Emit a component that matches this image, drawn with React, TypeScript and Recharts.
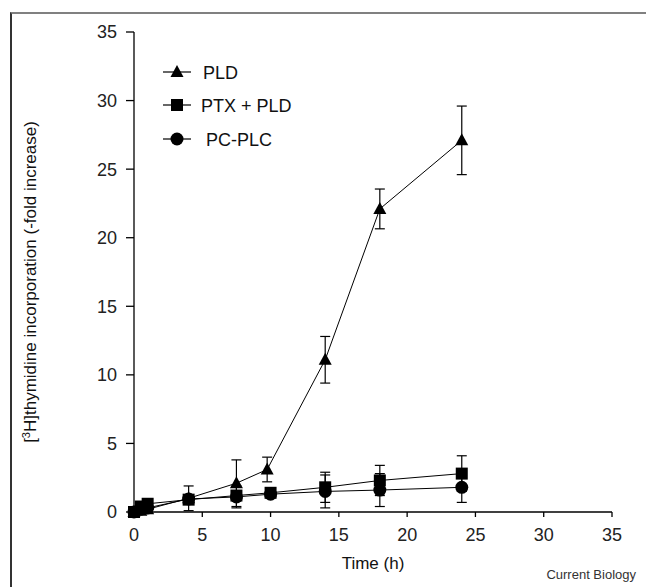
import React from 'react';
import { LineChart, Line, XAxis, YAxis, ErrorBar } from 'recharts';

const xTicks = [0, 5, 10, 15, 20, 25, 30, 35];
const yTicks = [0, 5, 10, 15, 20, 25, 30, 35];

const pldTimes = [0, 0.5, 1, 4, 7.5, 9.75, 14, 18, 24];
const pldValues = [0, 0.1, 0.2, 1.0, 2.1, 3.1, 11.1, 22.1, 27.1];
const pldErrors = [0, 0, 0, 0.9, 1.7, 0.9, 1.7, 1.45, 2.5];

const ptxTimes = [0, 0.5, 1, 4, 7.5, 10, 14, 18, 24];
const ptxValues = [0, 0.4, 0.6, 0.9, 1.2, 1.4, 1.8, 2.3, 2.8];
const ptxErrors = [0, 0, 0, 0, 0.3, 0.2, 1.1, 1.1, 1.3];

const pcTimes = [0, 0.5, 1, 4, 7.5, 10, 14, 18, 24];
const pcValues = [0, 0.2, 0.3, 0.95, 1.1, 1.3, 1.5, 1.6, 1.8];
const pcErrors = [0, 0, 0, 0, 0.8, 0.2, 1.2, 1.2, 1.1];

const seriesNames = ['PLD', 'PTX + PLD', 'PC-PLC'];
const seriesShapes = ['triangle', 'square', 'circle'];

const build = (t: number[], v: number[], e: number[]) =>
  t.map((x, i) => ({ t: x, v: v[i], e: e[i] }));

const pldData = build(pldTimes, pldValues, pldErrors);
const ptxData = build(ptxTimes, ptxValues, ptxErrors);
const pcData = build(pcTimes, pcValues, pcErrors);

const FONT = '"Liberation Sans", Arial, Helvetica, sans-serif';

const Marker = ({ shape, cx, cy }: { shape: string; cx: number; cy: number }) => {
  if (shape === 'triangle') {
    return <polygon points={`${cx},${cy - 7} ${cx - 6.5},${cy + 5} ${cx + 6.5},${cy + 5}`} fill="#000" />;
  }
  if (shape === 'square') {
    return <rect x={cx - 6} y={cy - 6} width={12} height={12} fill="#000" />;
  }
  return <circle cx={cx} cy={cy} r={6.5} fill="#000" />;
};

const makeDot = (shape: string) => (props: any) => {
  const { cx, cy, index } = props;
  if (cx == null || cy == null) return <g key={index} />;
  return <Marker key={index} shape={shape} cx={cx} cy={cy} />;
};

const YLabel = () => (
  <text
    transform="translate(36, 282) rotate(-90)"
    textAnchor="middle"
    fontFamily={FONT}
    fontSize={17}
    fill="#111"
  >
    [<tspan dy={-6} fontSize={11}>3</tspan>
    <tspan dy={6}>H]thymidine incorporation (-fold increase)</tspan>
  </text>
);

const XLabel = () => (
  <text x={373} y={569} textAnchor="middle" fontFamily={FONT} fontSize={17} fill="#111">
    Time (h)
  </text>
);

const LegendBox = () => (
  <svg width={200} height={110} style={{ position: 'absolute', left: 150, top: 55 }}>
    {seriesNames.map((name, i) => {
      const y = [17, 50, 84][i];
      return (
        <g key={name}>
          <line x1={13} x2={41} y1={y} y2={y} stroke="#000" strokeWidth={1.2} />
          <Marker shape={seriesShapes[i]} cx={27} cy={y} />
          <text x={[53, 51, 56][i]} y={y + 6.5} fontFamily={FONT} fontSize={18} fill="#111">
            {name}
          </text>
        </g>
      );
    })}
  </svg>
);

export default function App() {
  const tickStyle = { fontFamily: FONT, fontSize: 18, fill: '#222' };
  return (
    <div style={{ position: 'fixed', left: 0, top: 0, width: 646, height: 587, background: '#fff' }}>
      <div
        style={{
          position: 'absolute',
          left: 10,
          top: 12,
          width: 640,
          height: 580,
          borderTop: '2px solid #808080',
          borderLeft: '2px solid #333',
          boxSizing: 'border-box',
        }}
      />
      <div style={{ position: 'absolute', left: 0, top: 0 }}>
        <LineChart width={646} height={587} margin={{ top: 32, right: 34, bottom: 0, left: 0 }}>
          <XAxis
            xAxisId="b"
            type="number"
            dataKey="t"
            domain={[0, 35]}
            ticks={xTicks}
            height={75}
            tickSize={5}
            tickMargin={11}
            tick={tickStyle}
            stroke="#000"
            strokeWidth={1.3}
            allowDuplicatedCategory={false}
            label={<XLabel />}
          />
          <XAxis
            xAxisId="top"
            orientation="top"
            type="number"
            dataKey="t"
            domain={[0, 35]}
            height={0}
            tick={false}
            tickLine={false}
            stroke="#000"
            strokeWidth={1.3}
          />
          <YAxis
            yAxisId="l"
            type="number"
            domain={[0, 35]}
            ticks={yTicks}
            width={134}
            tickSize={8}
            tickMargin={9}
            tick={tickStyle}
            stroke="#000"
            strokeWidth={1.3}
            label={<YLabel />}
          />
          <YAxis
            yAxisId="r"
            orientation="right"
            type="number"
            domain={[0, 35]}
            width={0}
            tick={false}
            tickLine={false}
            stroke="#000"
            strokeWidth={1.3}
          />
          <Line
            xAxisId="b"
            yAxisId="l"
            data={pcData}
            dataKey="v"
            name="PC-PLC"
            stroke="#000"
            strokeWidth={1}
            dot={makeDot('circle')}
            isAnimationActive={false}
          >
            <ErrorBar dataKey="e" direction="y" width={5} stroke="#000" strokeWidth={1.2} />
          </Line>
          <Line
            xAxisId="b"
            yAxisId="l"
            data={ptxData}
            dataKey="v"
            name="PTX + PLD"
            stroke="#000"
            strokeWidth={1}
            dot={makeDot('square')}
            isAnimationActive={false}
          >
            <ErrorBar dataKey="e" direction="y" width={5} stroke="#000" strokeWidth={1.2} />
          </Line>
          <Line
            xAxisId="b"
            yAxisId="l"
            data={pldData}
            dataKey="v"
            name="PLD"
            stroke="#000"
            strokeWidth={1}
            dot={makeDot('triangle')}
            isAnimationActive={false}
          >
            <ErrorBar dataKey="e" direction="y" width={5} stroke="#000" strokeWidth={1.2} />
          </Line>
        </LineChart>
      </div>
      <LegendBox />
      <div
        style={{
          position: 'absolute',
          right: 10,
          top: 567,
          fontFamily: FONT,
          fontSize: 13,
          color: '#333',
        }}
      >
        Current Biology
      </div>
    </div>
  );
}
